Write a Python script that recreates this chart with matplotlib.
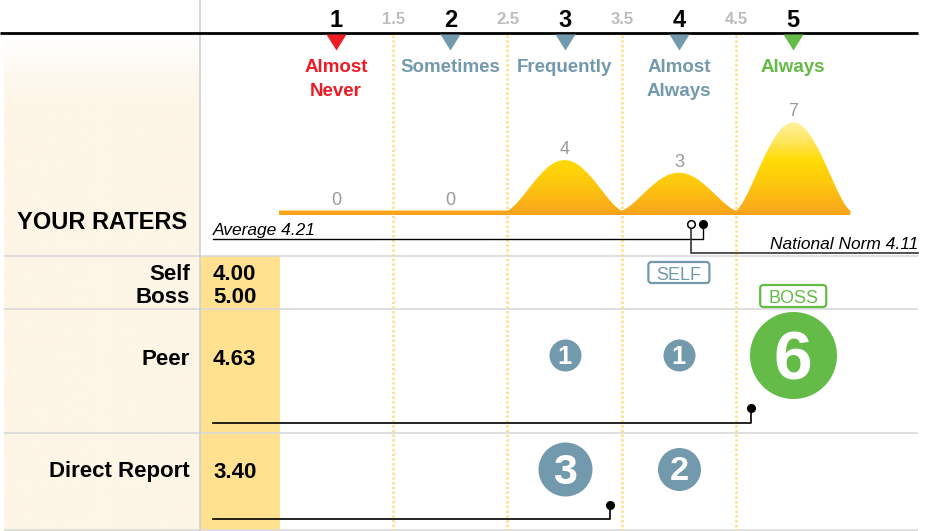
import numpy as np
import matplotlib
matplotlib.use('Agg')
import matplotlib.pyplot as plt
from matplotlib.patches import Rectangle, FancyBboxPatch, Polygon
from matplotlib.colors import LinearSegmentedColormap, to_rgb

plt.rcParams['font.family'] = ['Liberation Sans', 'DejaVu Sans']

# rating scale
scale_points = [1, 2, 3, 4, 5]
half_points = [1.5, 2.5, 3.5, 4.5]
scale_names = ['Almost\nNever', 'Sometimes', 'Frequently', 'Almost\nAlways', 'Always']
scale_colors = ['#ED1C24', '#7399AD', '#7399AD', '#7399AD', '#64BB47']

# all raters: how many picked each rating
rater_counts = [0, 0, 4, 3, 7]
average = 4.21
national_norm = 4.11

# rater groups
self_score = 4.00
boss_score = 5.00
peer_avg = 4.63
peer_counts = [0, 0, 1, 1, 6]
direct_avg = 3.40
direct_counts = [0, 0, 3, 2, 0]

# page layout, in pixels
W, H = 933, 531
X_ONE = 336        # where rating 1 sits
PX_PER_PT = 114.3  # pixels per rating point
PX_PER_COUNT = 12.6
BASE_Y = 210.5     # zero line of the distribution

BLUE = '#7399AD'
GREEN = '#64BB47'
CREAM = '#FDF5E6'
VALUE_BG = '#FFE190'
GRID = '#D9D9D9'
DOTS = '#FFDE85'


def to_score(px):
    return 1 + (px - X_ONE) / PX_PER_PT


def main():
    fig = plt.figure(figsize=(W / 100, H / 100), dpi=100)

    # layout axes in pixels
    bg = fig.add_axes([0, 0, 1, 1])
    bg.set_xlim(0, W)
    bg.set_ylim(H, 0)
    bg.axis('off')

    # score axes: x is the rating, y stays in pixels
    ax = fig.add_axes([0, 0, 1, 1])
    ax.set_xlim(to_score(0), to_score(W))
    ax.set_ylim(H, 0)
    ax.axis('off')
    ax.patch.set_alpha(0)

    draw_background(bg)
    draw_header(ax)
    draw_distribution(fig, ax)
    draw_average(ax, bg)
    draw_groups(ax, bg)

    fig.savefig('out.png', dpi=100)


def draw_background(bg):
    # label column fades from white into cream
    ys = np.linspace(33, 530, 300)
    t = np.clip((ys - 33) / 70, 0, 1)[:, None]
    img = (1 - t) * np.ones(3) + t * np.array(to_rgb(CREAM))
    bg.imshow(img[:, None, :], extent=(4, 199, 530, 33), aspect='auto', zorder=0)
    bg.set_xlim(0, W)
    bg.set_ylim(H, 0)

    bg.add_patch(Rectangle((200, 256), 80, 274, fc=VALUE_BG, ec='none', zorder=1))
    bg.hlines([256, 309, 433, 530], 4, 918, color=GRID, lw=1.2, zorder=2)
    bg.vlines(199.5, 0, H, color='#D0D0D0', lw=1.2, zorder=2)
    bg.hlines(33, 0, 918, color='black', lw=2, zorder=3)

    bg.text(102, 229, 'YOUR RATERS', ha='center', va='baseline',
            fontsize=17, weight='bold')


def draw_header(ax):
    for s in scale_points:
        ax.text(s, 27, str(s), ha='center', va='baseline', fontsize=17, weight='bold')
    for h in half_points:
        ax.text(h, 24, f'{h}', ha='center', va='baseline', fontsize=12,
                weight='bold', color='#BDBDBD')
        ax.vlines(h, 35, 530, color=DOTS, lw=1.8, linestyles=(0, (1, 0.9)), zorder=1)

    tri = [(-10, 8), (10, 8), (0, -8)]
    for s, c, name in zip(scale_points, scale_colors, scale_names):
        ax.plot(s, 42, marker=tri, ms=14.4, color=c, mew=0, ls='none', zorder=4)
        for i, line in enumerate(name.split('\n')):
            ax.text(s, 72 + i * 23.5, line, ha='center', va='baseline',
                    fontsize=13.5, weight='bold', color=c)


def draw_distribution(fig, ax):
    top_px, bot_px = 90, 225
    cv = fig.add_axes([0, (H - bot_px) / H, 1, (bot_px - top_px) / H])
    cv.axis('off')
    cv.patch.set_alpha(0)
    ylo = -(bot_px - BASE_Y) / PX_PER_COUNT
    yhi = (BASE_Y - top_px) / PX_PER_COUNT

    xs = np.linspace(0.5, 5.5, 1201)
    prof = np.zeros_like(xs)
    for s, c in zip(scale_points, rater_counts):
        d = np.abs(xs - s)
        prof += c * np.where(d < 0.5, np.cos(np.pi * np.minimum(d, 0.5)) ** 1.4, 0)
    bar_bottom = -4.5 / PX_PER_COUNT
    verts = np.column_stack([np.r_[xs, xs[::-1]],
                             np.r_[prof, np.full_like(xs, bar_bottom)]])
    shape = Polygon(verts, closed=True, fc='none', ec='none')
    cv.add_patch(shape)

    g_top = 7.3
    stops = [(bar_bottom, '#F8A21B'), (0, '#F9A91C'), (2, '#FDC70E'),
             (4, '#FFDC05'), (5.5, '#FFE660'), (g_top, '#FFF3AC')]
    cmap = LinearSegmentedColormap.from_list(
        'warm', [((v - bar_bottom) / (g_top - bar_bottom), c) for v, c in stops])
    grad = np.linspace(0, 1, 256)[:, None]
    im = cv.imshow(grad, cmap=cmap, extent=(0.5, 5.5, bar_bottom, g_top),
                   origin='lower', aspect='auto')
    im.set_clip_path(shape)
    cv.set_xlim(ax.get_xlim())
    cv.set_ylim(ylo, yhi)

    for s, c in zip(scale_points, rater_counts):
        cv.annotate(str(c), (s, c), xytext=(0, 4.3), textcoords='offset points',
                    ha='center', va='baseline', fontsize=13, color='#9A9A9A')


def draw_average(ax, bg):
    x0 = to_score(213)
    x1 = to_score(918)
    ax.plot([x0, average, average], [239, 239, 224], color='black', lw=1, zorder=5)
    ax.plot([national_norm, national_norm, x1], [224, 252.5, 252.5], color='#333333',
            lw=1.2, zorder=5)
    ax.plot(average, 224, 'o', color='black', ms=5.5, zorder=6)
    ax.plot(national_norm, 224, 'o', mfc='white', mec='black', mew=1.1, ms=5.5, zorder=6)

    bg.text(213, 235, f'Average {average:.2f}', ha='left', va='baseline',
            fontsize=12.5, style='italic')
    bg.text(918, 249, f'National Norm {national_norm:.2f}', ha='right', va='baseline',
            fontsize=12.5, style='italic')


def badge(ax, x, y, label, color, w_px, h_px):
    w = w_px / PX_PER_PT
    box = FancyBboxPatch((x - w / 2, y - h_px / 2), w, h_px,
                         boxstyle=f'round,pad=0,rounding_size={3 / PX_PER_PT}',
                         mutation_aspect=PX_PER_PT, fc='white', ec=color, lw=1.6,
                         zorder=5)
    ax.add_patch(box)
    ax.text(x, y + 0.5, label, ha='center', va='center_baseline', fontsize=13,
            color=color, zorder=6)


def bubbles(ax, y, counts):
    for s, c in zip(scale_points, counts):
        if c == 0:
            continue
        r = 10.5 + 5.5 * c
        col = GREEN if s == 5 else BLUE
        ax.scatter(s, y, s=(1.44 * r) ** 2, color=col, lw=0, zorder=5)
        ax.text(s, y, str(c), ha='center', va='center_baseline', color='white',
                fontsize=1.15 * r, weight='bold', zorder=6)


def group_line(ax, avg, y_line, y_dot):
    x0 = to_score(213)
    ax.plot([x0, avg, avg], [y_line, y_line, y_dot], color='black', lw=1.2, zorder=5)
    ax.plot(avg, y_dot, 'o', color='black', ms=5.5, zorder=6)


def draw_groups(ax, bg):
    rows = [('Self', self_score, 280), ('Boss', boss_score, 303),
            ('Peer', peer_avg, 365), ('Direct Report', direct_avg, 477.5)]
    for name, val, y in rows:
        bg.text(190, y, name, ha='right', va='baseline', fontsize=16, weight='bold')
        bg.text(213, y, f'{val:.2f}', ha='left', va='baseline', fontsize=16, weight='bold')

    badge(ax, self_score, 272.5, 'SELF', BLUE, 61, 21)
    badge(ax, boss_score, 296, 'BOSS', GREEN, 66, 22)

    bubbles(ax, 355, peer_counts)
    group_line(ax, peer_avg, 422.7, 408)

    bubbles(ax, 468.5, direct_counts)
    group_line(ax, direct_avg, 519.3, 505)


if __name__ == '__main__':
    main()
